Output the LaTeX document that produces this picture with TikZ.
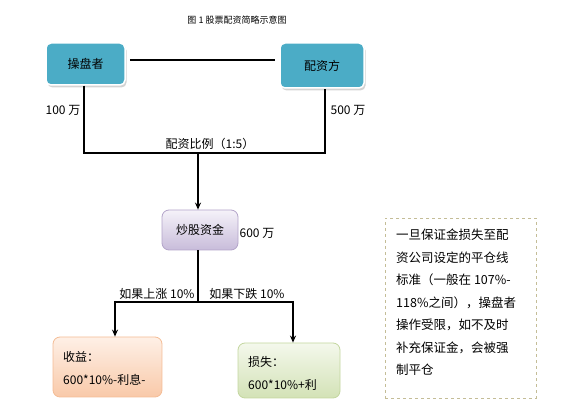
\documentclass[tikz,border=0pt]{standalone}
\usepackage{fontspec}
\setmainfont{Noto Sans CJK SC}
\usetikzlibrary{shadows,arrows.meta}
\definecolor{teal1}{HTML}{4BACC6}
\definecolor{lavtop}{HTML}{F5F2F9}
\definecolor{lavbot}{HTML}{C8BCDA}
\definecolor{lavline}{HTML}{B3A4C9}
\definecolor{petop}{HTML}{FEF0E6}
\definecolor{pebot}{HTML}{F9C9A9}
\definecolor{peline}{HTML}{F4BC95}
\definecolor{grtop}{HTML}{F4F8EC}
\definecolor{grbot}{HTML}{D3E2B6}
\definecolor{grline}{HTML}{C3D69F}
\definecolor{dashc}{HTML}{C4BD97}
\tikzset{
  tealbox/.style={rectangle, rounded corners=5pt, fill=teal1, draw=white, line width=1.5pt,
    minimum width=#1, minimum height=42pt, inner sep=0pt, font=\fontsize{12}{14}\selectfont,
    drop shadow={shadow xshift=1.5pt, shadow yshift=-2.5pt, opacity=0.35}},
  gradbox/.style={rectangle, rounded corners=7pt, line width=0.8pt, inner sep=0pt},
  frameline/.style={line width=2.8pt, black},
  arrline/.style={line width=1.8pt, black, -{Stealth[length=7pt,width=6pt]}},
  lbl/.style={font=\fontsize{12}{14}\selectfont, inner sep=0pt},
  body/.style={font=\fontsize{12}{23}\selectfont, align=left, inner sep=0pt},
}
\begin{document}
\begin{tikzpicture}[x=1pt,y=-1pt]
\useasboundingbox (0,0) rectangle (582,414);
\node[font=\fontsize{9}{11}\selectfont] (title) at (237,20) {图 1 股票配资简略示意图};
\node[tealbox=79pt] (op) at (85.5,64) {操盘者};
\node[tealbox=84pt, minimum height=45pt] (fund) at (322,65.5) {配资方};
\draw[line width=2.2pt] ([xshift=4pt,yshift=4pt]op.east) -- ([xshift=-4pt,yshift=4pt]op.east -| fund.west);
\coordinate (jl) at (84,153);
\coordinate (jr) at (325,153);
\coordinate (split) at (198,153);
\draw[frameline] (op.south -| jl) -- (jl) -- (jr) -- (jr |- fund.south);
\node[lbl] (l100) at (63,110) {100 万};
\node[lbl] (l500) at (348,110) {500 万};
\node[lbl] (ratio) at (210,144) {配资比例（1:5）};
\node[gradbox, draw=lavline, top color=lavtop, bottom color=lavbot, minimum width=76pt, minimum height=40pt,
  font=\fontsize{12}{14}\selectfont] (stock) at (200,230) {炒股资金\hspace{6pt}};
\draw[arrline] (split) -- (split |- stock.north);
\node[lbl] (l600) at (257,233) {600 万};
\coordinate (bl) at (115,302);
\coordinate (br) at (293,302);
\draw[line width=2.2pt] (stock.south -| split) -- (split |- bl);
\draw[line width=2.2pt] (bl) -- (br);
\node[lbl] (up) at (157,294) {如果上涨 10\%};
\node[lbl] (down) at (247,294) {如果下跌 10\%};
\node[gradbox, draw=peline, top color=petop, bottom color=pebot, minimum width=109pt, minimum height=60pt] (gain) at (107.5,367) {};
\node[gradbox, draw=grline, top color=grtop, bottom color=grbot, minimum width=102pt, minimum height=55pt] (loss) at (289,370.5) {};
\draw[arrline] ([yshift=1pt]bl) -- (bl |- gain.north);
\draw[arrline] ([yshift=1pt]br) -- (br |- loss.north);
\node[body, anchor=west] (gaint) at (63,368.5) {收益：\\600*10\%-利息-};
\node[body, anchor=west] (losst) at (248,373.5) {损失：\\600*10\%+利};
\node[draw=dashc, dashed, line width=0.8pt, minimum width=151pt, minimum height=180pt, inner sep=0pt] (note) at (460.5,308) {};
\node[body, font=\fontsize{12.5}{22.5}\selectfont, anchor=north west] (notet) at (396,229)
  {一旦保证金损失至配\\资公司设定的平仓线\\标准（一般在 107\%-\\118\%之间），操盘者\\操作受限，如不及时\\补充保证金，会被强\\制平仓};
\end{tikzpicture}
\end{document}
